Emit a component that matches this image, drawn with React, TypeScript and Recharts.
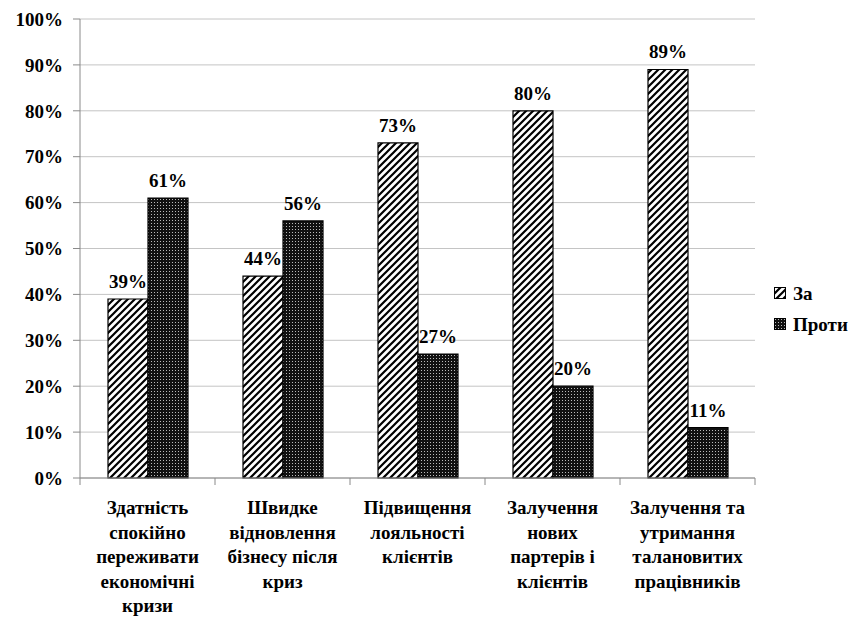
import { BarChart, Bar, XAxis, YAxis, CartesianGrid, Legend, LabelList } from "recharts";

const categories = [
  ["Здатність", "спокійно", "переживати", "економічні", "кризи"],
  ["Швидке", "відновлення", "бізнесу після", "криз"],
  ["Підвищення", "лояльності", "клієнтів"],
  ["Залучення", "нових", "партерів і", "клієнтів"],
  ["Залучення та", "утримання", "талановитих", "працівників"],
];
const forValues = [39, 44, 73, 80, 89];
const againstValues = [61, 56, 27, 20, 11];
const yTicks = [0, 10, 20, 30, 40, 50, 60, 70, 80, 90, 100];

const data = categories.map((lines, i) => ({
  name: lines.join(" "),
  lines,
  za: forValues[i],
  proty: againstValues[i],
}));

const FONT = "Liberation Serif, Tinos, Times New Roman, DejaVu Serif, serif";
const W = 857;
const H = 624;
const MARGIN = { top: 19, right: 102, left: 0, bottom: 0 };
const Y_AXIS_W = 80;
const X_AXIS_H = 146;
const BAND = (W - MARGIN.left - MARGIN.right - Y_AXIS_W) / categories.length;
const AXIS_COLOR = "#8a8a8a";

function Patterns({ prefix }: { prefix: string }) {
  return (
    <defs>
      <pattern id={`${prefix}-hatch`} width="7" height="7" patternUnits="userSpaceOnUse">
        <rect width="7" height="7" fill="#fff" />
        <path d="M-1,1 l2,-2 M0,7 l7,-7 M6,8 l2,-2" stroke="#000" strokeWidth="2.2" />
      </pattern>
      <pattern id={`${prefix}-dots`} width="3" height="3" patternUnits="userSpaceOnUse">
        <rect width="3" height="3" fill="#111" />
        <rect x="1" y="1" width="1" height="1" fill="#bbb" />
      </pattern>
    </defs>
  );
}

function CategoryTick(props: any) {
  const { x, y, payload, index } = props;
  const lines: string[] = categories[index] ?? [payload.value];
  const left = x - BAND / 2;
  const right = x + BAND / 2;
  return (
    <g>
      <line x1={left} y1={y - 9} x2={left} y2={y - 2} stroke={AXIS_COLOR} />
      {index === categories.length - 1 && (
        <line x1={right} y1={y - 9} x2={right} y2={y - 2} stroke={AXIS_COLOR} />
      )}
      <text
        x={x}
        y={y + 27}
        textAnchor="middle"
        fontFamily={FONT}
        fontWeight="bold"
        fontSize={19}
        fill="#000"
      >
        {lines.map((l, i) => (
          <tspan key={i} x={x} dy={i === 0 ? 0 : 24.5}>
            {l}
          </tspan>
        ))}
      </text>
    </g>
  );
}

function LegendContent() {
  const items = [
    { label: "За", fill: "url(#lg-hatch)" },
    { label: "Проти", fill: "url(#lg-dots)" },
  ];
  return (
    <div style={{ fontFamily: FONT, fontWeight: "bold", fontSize: 19 }}>
      {items.map((it) => (
        <div key={it.label} style={{ display: "flex", alignItems: "center", height: 31 }}>
          <svg width={13} height={13} style={{ marginRight: 6 }}>
            <Patterns prefix="lg" />
            <rect x={0.5} y={0.5} width={11} height={11} fill={it.fill} stroke="#000" />
          </svg>
          <span>{it.label}</span>
        </div>
      ))}
    </div>
  );
}

export default function App() {
  return (
    <div style={{ width: W, height: H, background: "#fff" }}>
      <style>{`body{margin:0}`}</style>
      <BarChart
        width={W}
        height={H}
        data={data}
        margin={MARGIN}
        barCategoryGap={28}
        barGap={0}
      >
        <Patterns prefix="ch" />
        <CartesianGrid vertical={false} stroke="#c4c4c4" />
        <XAxis
          dataKey="name"
          height={X_AXIS_H}
          tickSize={7}
          tickLine={false}
          stroke={AXIS_COLOR}
          interval={0}
          tick={<CategoryTick />}
        />
        <YAxis
          width={Y_AXIS_W}
          domain={[0, 100]}
          ticks={yTicks}
          tickSize={7}
          tickMargin={10}
          stroke={AXIS_COLOR}
          tickFormatter={(v: number) => `${v}%`}
          tick={{ fill: "#000", fontFamily: FONT, fontWeight: "bold", fontSize: 19 }}
        />
        <Legend
          layout="vertical"
          align="center"
          verticalAlign="middle"
          wrapperStyle={{ left: 774, top: 278, width: 83 }}
          content={<LegendContent />}
        />
        <Bar dataKey="za" name="За" fill="url(#ch-hatch)" stroke="#000" strokeWidth={1.2} isAnimationActive={false}>
          <LabelList
            dataKey="za"
            position="top"
            offset={11}
            formatter={(v: number) => `${v}%`}
            style={{ fill: "#000", fontFamily: FONT, fontWeight: "bold", fontSize: 19 }}
          />
        </Bar>
        <Bar dataKey="proty" name="Проти" fill="url(#ch-dots)" stroke="#000" strokeWidth={1.2} isAnimationActive={false}>
          <LabelList
            dataKey="proty"
            position="top"
            offset={11}
            formatter={(v: number) => `${v}%`}
            style={{ fill: "#000", fontFamily: FONT, fontWeight: "bold", fontSize: 19 }}
          />
        </Bar>
      </BarChart>
    </div>
  );
}
